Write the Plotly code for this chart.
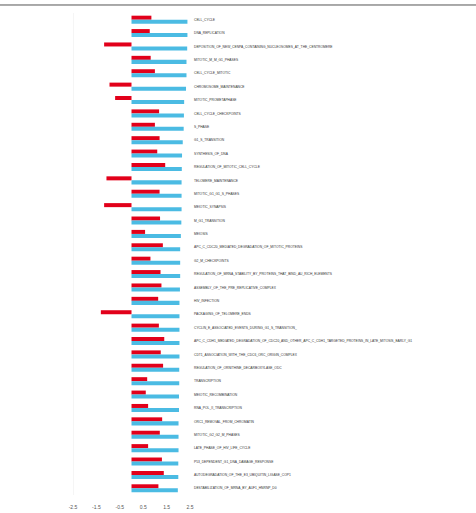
import plotly.graph_objects as go

pathways = [
    "CELL_CYCLE",
    "DNA_REPLICATION",
    "DEPOSITION_OF_NEW_CENPA_CONTAINING_NUCLEOSOMES_AT_THE_CENTROMERE",
    "MITOTIC_M_M_G1_PHASES",
    "CELL_CYCLE_MITOTIC",
    "CHROMOSOME_MAINTENANCE",
    "MITOTIC_PROMETAPHASE",
    "CELL_CYCLE_CHECKPOINTS",
    "S_PHASE",
    "G1_S_TRANSITION",
    "SYNTHESIS_OF_DNA",
    "REGULATION_OF_MITOTIC_CELL_CYCLE",
    "TELOMERE_MAINTENANCE",
    "MITOTIC_G1_G1_S_PHASES",
    "MEIOTIC_SYNAPSIS",
    "M_G1_TRANSITION",
    "MEIOSIS",
    "APC_C_CDC20_MEDIATED_DEGRADATION_OF_MITOTIC_PROTEINS",
    "G2_M_CHECKPOINTS",
    "REGULATION_OF_MRNA_STABILITY_BY_PROTEINS_THAT_BIND_AU_RICH_ELEMENTS",
    "ASSEMBLY_OF_THE_PRE_REPLICATIVE_COMPLEX",
    "HIV_INFECTION",
    "PACKAGING_OF_TELOMERE_ENDS",
    "CYCLIN_E_ASSOCIATED_EVENTS_DURING_G1_S_TRANSITION_",
    "APC_C_CDH1_MEDIATED_DEGRADATION_OF_CDC20_AND_OTHER_APC_C_CDH1_TARGETED_PROTEINS_IN_LATE_MITOSIS_EARLY_G1",
    "CDT1_ASSOCIATION_WITH_THE_CDC6_ORC_ORIGIN_COMPLEX",
    "REGULATION_OF_ORNITHINE_DECARBOXYLASE_ODC",
    "TRANSCRIPTION",
    "MEIOTIC_RECOMBINATION",
    "RNA_POL_II_TRANSCRIPTION",
    "ORC1_REMOVAL_FROM_CHROMATIN",
    "MITOTIC_G2_G2_M_PHASES",
    "LATE_PHASE_OF_HIV_LIFE_CYCLE",
    "P53_DEPENDENT_G1_DNA_DAMAGE_RESPONSE",
    "AUTODEGRADATION_OF_THE_E3_UBIQUITIN_LIGASE_COP1",
    "DESTABILIZATION_OF_MRNA_BY_AUF1_HNRNP_D0",
]

blue_values = [2.39, 2.39, 2.38, 2.35, 2.35, 2.33, 2.25, 2.24, 2.23, 2.19,
               2.16, 2.15, 2.14, 2.14, 2.14, 2.13, 2.11, 2.08, 2.08, 2.08,
               2.07, 2.05, 2.05, 2.05, 2.05, 2.05, 2.04, 2.04, 2.03, 2.03,
               2.01, 2.01, 2.01, 2.00, 2.00, 1.98]

red_values = [0.85, 0.78, -1.17, 0.82, 1.00, -0.94, -0.70, 1.18, 1.00, 1.20,
              1.10, 1.44, -1.07, 1.20, -1.17, 1.22, 0.58, 1.34, 0.81, 1.24,
              1.28, 1.14, -1.31, 1.17, 1.40, 1.25, 1.35, 0.67, 0.61, 0.71,
              1.31, 1.21, 0.71, 1.30, 1.38, 1.15]

x_ticks = [-2.5, -1.5, -0.5, 0.5, 1.5, 2.5]

RED = "#e2001a"
BLUE = "#4bbbe3"
FONT = "Liberation Sans, Arial, sans-serif"

fig = go.Figure()
fig.add_trace(go.Bar(y=pathways, x=red_values, orientation="h",
                     marker=dict(color=RED, line=dict(width=0)), name="red"))
fig.add_trace(go.Bar(y=pathways, x=blue_values, orientation="h",
                     marker=dict(color=BLUE, line=dict(width=0)), name="blue"))

fig.update_layout(
    width=476, height=513,
    margin=dict(l=73, r=286, t=13, b=18, pad=0),
    paper_bgcolor="white", plot_bgcolor="white",
    barmode="group", bargap=0.4, bargroupgap=0,
    showlegend=False,
    xaxis=dict(range=[-2.5, 2.5], tickvals=x_ticks,
               ticktext=[str(v) for v in x_ticks],
               showgrid=False, zeroline=False, showline=False,
               tickfont=dict(size=5, color="#555555", family=FONT),
               ticks="", automargin=False, ticklabelstandoff=8),
    yaxis=dict(side="right", autorange="reversed", showgrid=False,
               zeroline=False, showline=False, ticks="",
               tickfont=dict(size=3.3, color="#333333", family=FONT),
               automargin=False, ticklabelstandoff=3),
    shapes=[
        dict(type="line", xref="x", yref="paper", x0=-2.5, x1=-2.5, y0=0, y1=1,
             line=dict(color="#ececec", width=1)),
        dict(type="line", xref="paper", yref="paper", x0=-0.7, x1=3.5,
             y0=1.0166, y1=1.0166, line=dict(color="#555555", width=1)),
    ],
)

fig.write_html("out.html")
